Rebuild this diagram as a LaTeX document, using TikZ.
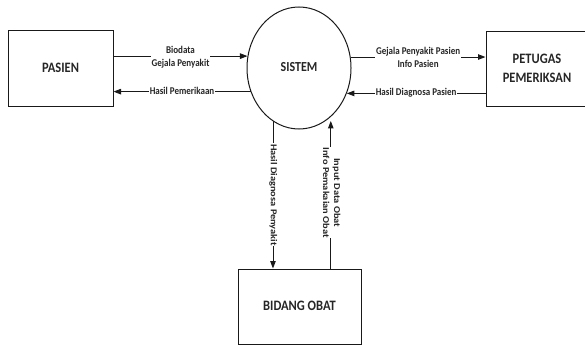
\documentclass[tikz,border=0pt]{standalone}
\usepackage{fontspec}
\setmainfont{Carlito}[BoldFont={Carlito Bold}]
\usepackage{graphicx}
\usetikzlibrary{shapes.geometric,arrows.meta}
\newcommand{\vstk}[1]{\scalebox{1}[1.15]{\begin{tabular}{@{}c@{}}#1\end{tabular}}}
\newcommand{\hstk}[1]{\scalebox{1.15}[1]{\begin{tabular}{@{}c@{}}#1\end{tabular}}}
\begin{document}
\begin{tikzpicture}[x=1pt,y=-1pt,
  entity/.style={draw=black!90, line width=1pt, inner sep=0pt, text=black!85,
    font=\fontsize{12.5}{16.5}\selectfont\bfseries},
  proc/.style={draw=black!90, ellipse, line width=1pt, minimum width=104pt,
    minimum height=122pt, inner sep=0pt, text=black!85,
    font=\fontsize{12}{16}\selectfont\bfseries},
  flow/.style={draw=black!90, line width=0.9pt, -{Triangle[length=7.5pt,width=5.5pt]}},
  lbl/.style={fill=white, inner sep=0.6pt, text=black!85,
    font=\fontsize{9}{11}\selectfont\bfseries},
]
\useasboundingbox (0,0) rectangle (585,345);
\node[entity, minimum width=105pt, minimum height=75pt] (pasien) at (60.5,68.5) {\vstk{PASIEN}};
\node[proc] (sistem) at (299,68) {\vstk{SISTEM}};
\node[entity, minimum width=102pt, minimum height=74pt] (petugas) at (537,69) {\vstk{PETUGAS\\PEMERIKSAN}};
\node[entity, minimum width=123pt, minimum height=75pt] (bidang) at (299.5,306.5) {\vstk{BIDANG OBAT}};

\draw[flow] (pasien.east |- sistem.167.85) -- node[lbl, yshift=-1.5pt]{\vstk{Biodata\\Gejala Penyakit}} (sistem.167.85);
\draw[flow] (sistem.206.66) -- node[lbl]{\vstk{Hasil Pemerikaan}} (pasien.east |- sistem.206.66);
\draw[flow] (sistem.12.15) -- node[lbl, yshift=-1.5pt]{\vstk{Gejala Penyakit Pasien\\Info Pasien}} (sistem.12.15 -| petugas.west);
\draw[flow] (sistem.332.2 -| petugas.west) -- node[lbl]{\vstk{Hasil Diagnosa Pasien}} (sistem.332.2);
\draw[flow] (sistem.244.95) -- node[lbl, rotate=-90]{\hstk{Hasil Diagnosa Penyakit}} (sistem.244.95 |- bidang.north);
\draw[flow, shorten >=4pt] (sistem.303 |- bidang.north) -- node[lbl, rotate=-90]{\hstk{Input Data Obat\\Info Pemakaian Obat}} (sistem.303);
\end{tikzpicture}
\end{document}
